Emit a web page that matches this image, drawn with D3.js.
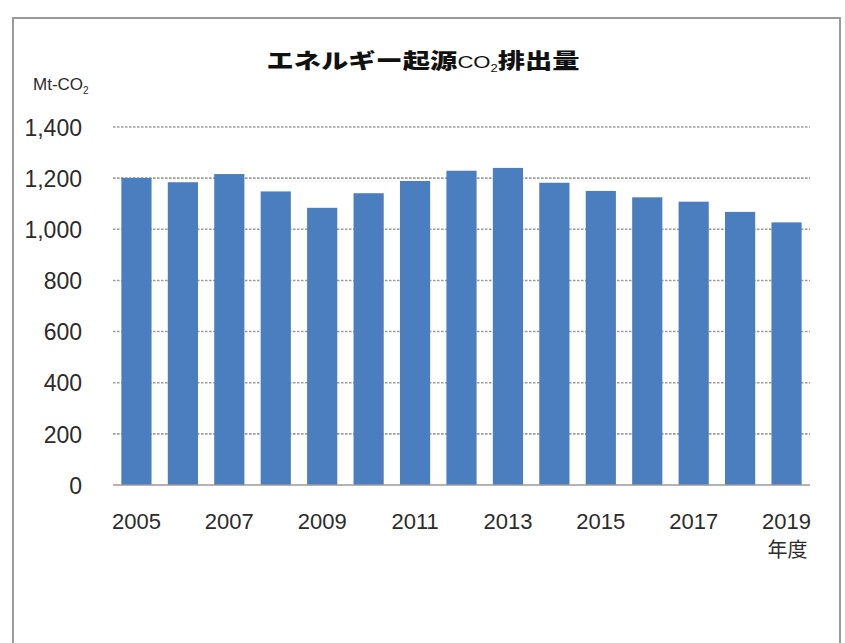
<!DOCTYPE html>
<html>
<head>
<meta charset="utf-8">
<script src="https://cdn.jsdelivr.net/npm/d3@7"></script>
<style>
  html, body { margin: 0; padding: 0; background: #fff; }
  svg { display: block; }
  text { font-family: "Liberation Sans", Arial, sans-serif; }
</style>
</head>
<body>
<svg id="chart" width="845" height="643"></svg>
<script>
// Energy-related CO2 emissions by fiscal year (Mt-CO2)
const years = ["2005","2006","2007","2008","2009","2010","2011","2012","2013","2014","2015","2016","2017","2018","2019"];
const emissions = [1201, 1184, 1216, 1148, 1084, 1141, 1189, 1229, 1240, 1182, 1150, 1125, 1108, 1068, 1027];
const yTicks = [0, 200, 400, 600, 800, 1000, 1200, 1400];
const xLabelYears = ["2005","2007","2009","2011","2013","2015","2017","2019"];
const titleMain = "エネルギー起源";
const titleCO = "CO";
const titleTail = "排出量";
const unitLabel = "Mt-CO";
const xUnit = "年度";

const svg = d3.select("#chart");

// outer frame
svg.append("rect")
  .attr("x", 13).attr("y", 18)
  .attr("width", 827).attr("height", 640)
  .attr("fill", "none")
  .attr("stroke", "#9a9a9a")
  .attr("stroke-width", 2);

const plot = { left: 113, right: 810, top: 127, bottom: 485 };

const x = d3.scaleBand()
  .domain(years)
  .range([plot.left, plot.right])
  .paddingInner(0.35)
  .paddingOuter(0.18);

const y = d3.scaleLinear()
  .domain([0, 1400])
  .range([plot.bottom, plot.top]);

// dotted gridlines
svg.append("g")
  .selectAll("line")
  .data(yTicks.filter(d => d > 0))
  .join("line")
  .attr("x1", plot.left).attr("x2", plot.right)
  .attr("y1", d => y(d)).attr("y2", d => y(d))
  .attr("stroke", "#9a9a9a")
  .attr("stroke-width", 1.6)
  .attr("stroke-dasharray", "2.5,1.5");

// bars
svg.append("g")
  .selectAll("rect")
  .data(years.map((yr, i) => ({ yr, v: emissions[i] })))
  .join("rect")
  .attr("x", d => x(d.yr))
  .attr("width", x.bandwidth())
  .attr("y", d => y(d.v))
  .attr("height", d => y(0) - y(d.v))
  .attr("fill", "#4a7ebf");

// baseline
svg.append("line")
  .attr("x1", plot.left).attr("x2", plot.right)
  .attr("y1", y(0)).attr("y2", y(0))
  .attr("stroke", "#9a9a9a")
  .attr("stroke-width", 1.6);

// y-axis labels
const yAxis = d3.axisLeft(y)
  .tickValues(yTicks)
  .tickSize(0)
  .tickPadding(0)
  .tickFormat(d3.format(","));
const gy = svg.append("g")
  .attr("transform", "translate(82,0)")
  .call(yAxis);
gy.select(".domain").remove();
gy.selectAll("text")
  .attr("font-size", 23)
  .attr("fill", "#2b2b2b")
  .attr("dy", "0.36em")
  .style("font-family", "'Liberation Sans', Arial, sans-serif");

// x-axis labels (every other year)
const xAxis = d3.axisBottom(x)
  .tickValues(xLabelYears)
  .tickSize(0)
  .tickPadding(0);
const gx = svg.append("g")
  .attr("transform", "translate(0,513)")
  .call(xAxis);
gx.select(".domain").remove();
gx.selectAll("text")
  .attr("font-size", 22)
  .attr("fill", "#2b2b2b")
  .attr("dy", "0.72em")
  .style("font-family", "'Liberation Sans', Arial, sans-serif");

// x unit under the last label
svg.append("text")
  .attr("x", x("2019") + x.bandwidth() / 2 + 1)
  .attr("y", 557)
  .attr("text-anchor", "middle")
  .attr("font-size", 20)
  .attr("fill", "#2b2b2b")
  .style("font-family", "'Noto Sans CJK JP', sans-serif")
  .text(xUnit);

// y unit label
const unit = svg.append("text")
  .attr("x", 33).attr("y", 90)
  .attr("font-size", 17)
  .attr("fill", "#2b2b2b");
unit.append("tspan").text(unitLabel);
unit.append("tspan").attr("font-size", 10).attr("dy", 4).text("2");

// title, stretched horizontally
const titleG = svg.append("g")
  .attr("transform", "translate(423,68) scale(1.3,1)");
const title = titleG.append("text")
  .attr("x", 0).attr("y", 0)
  .attr("text-anchor", "middle")
  .attr("font-size", 21)
  .attr("font-weight", 900)
  .attr("fill", "#111")
  .style("font-family", "'Noto Sans CJK JP', sans-serif");
title.append("tspan").text(titleMain);
title.append("tspan")
  .attr("font-weight", 400)
  .attr("font-size", 17)
  .style("font-family", "'Liberation Sans', Arial, sans-serif")
  .text(titleCO);
title.append("tspan")
  .attr("font-weight", 400)
  .attr("font-size", 10)
  .attr("dy", 4)
  .style("font-family", "'Liberation Sans', Arial, sans-serif")
  .text("2");
title.append("tspan").attr("dy", -4).text(titleTail);
</script>
</body>
</html>
